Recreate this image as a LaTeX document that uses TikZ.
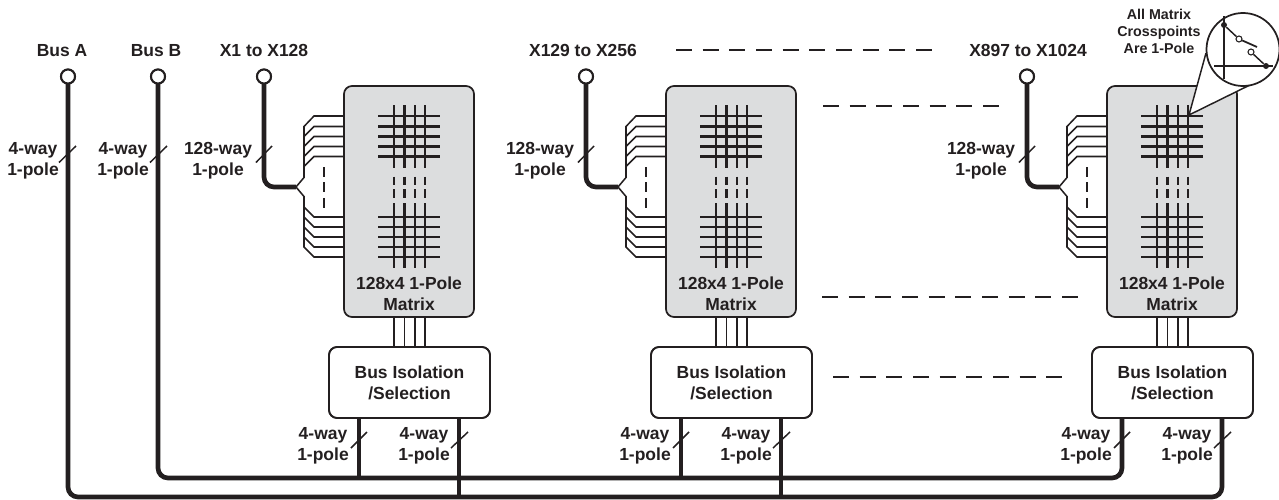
\documentclass[tikz,border=0pt]{standalone}
\usepackage{fontspec}
\setmainfont{Liberation Sans}[Ligatures=TeX]
\definecolor{ink}{HTML}{231F20}
\definecolor{panel}{HTML}{DCDDDE}
\tikzset{
  lbl/.style={font=\fontsize{13.1}{15.75}\selectfont\bfseries,text=ink,align=center,inner sep=0pt,outer sep=0pt},
  note/.style={font=\fontsize{10.7}{12.75}\selectfont\bfseries,text=ink,align=center,inner sep=0pt,outer sep=0pt},
  terminal/.style={circle,draw=ink,fill=white,line width=1.5pt,minimum size=10.5pt,inner sep=0pt,outer sep=0pt},
  matrixbox/.style={draw=ink,fill=panel,line width=1.3pt,rounded corners=6pt,minimum width=97.5pt,minimum height=173.25pt,inner sep=0pt,outer sep=0pt},
  isobox/.style={draw=ink,fill=white,line width=1.3pt,rounded corners=6pt,minimum width=120.75pt,minimum height=53.25pt,inner sep=0pt,outer sep=0pt},
  bus/.style={draw=ink,line width=3.5pt,rounded corners=7.5pt},
  fan/.style={draw=ink,line width=1.15pt},
  xbar/.style={draw=ink,line width=1.75pt},
  slashmark/.style={draw=ink,line width=1.1pt},
  gap/.style={draw=ink,line width=1.5pt,dash pattern=on 12pt off 8pt},
  thin/.style={draw=ink,line width=1.1pt}
}
\begin{document}
\begin{tikzpicture}[x=.75pt,y=-.75pt]
\useasboundingbox (0,0) rectangle (1279,500);
% top labels
\node[lbl] (lA) at (62,50.5) {Bus A};
\node[lbl] (lB) at (156,50.5) {Bus B};
\node[lbl] (lC) at (264,50.5) {X1 to X128};
\node[lbl] (lD) at (583,50.5) {X129 to X256};
\node[lbl] (lE) at (1028,50.5) {X897 to X1024};
% modules
\foreach \m/\o in {a/0,b/322,c/763}{
  \node[matrixbox] (mx\m) at ({409+\o},201.5) {};
  \node[isobox] (iso\m) at ({409.5+\o},382.5) {};
  \node[terminal] (in\m) at ({264+\o},76.5) {};
  \node[lbl] (mt\m) at ({409+\o},294) {128x4 1-Pole\\Matrix};
  \node[lbl] (it\m) at ({409.5+\o},382.5) {Bus Isolation\\/Selection};
  % crosspoints
  \foreach \y in {116,126.5,136.5,146.5,156.5,217,227,237,247,257}
    \draw[xbar] ({378+\o},\y) -- ({440+\o},\y);
  \foreach \x in {394,404.5,415,425}{
    \draw[xbar] ({\x+\o},105) -- ({\x+\o},168);
    \draw[xbar] ({\x+\o},203) -- ({\x+\o},268);
    \draw[xbar,dash pattern=on 6.2pt off 3.5pt] ({\x+\o},176.5) -- ({\x+\o},198);
    \draw[thin] ({\x+\o},317.5) -- ({\x+\o},347);
  }
  % fan-out
  \coordinate (fan\m) at ({296+\o},187);
  \coordinate (up\m) at ({304+\o},126.5);
  \coordinate (dn\m) at ({304+\o},247);
  \draw[fan] (fan\m) -- ++(8,-9.5) -- (up\m) -- ++(10,-10.5) -- ({344+\o},116);
  \draw[fan] (fan\m) -- ++(8,9.5) -- (dn\m) -- ++(10,10) -- ({344+\o},257);
  \foreach \y in {126.5,136.5,146.5,156.5}
    \draw[fan] ({304+\o},\y+10) -- ++(10,-10) -- ({344+\o},\y);
  \foreach \y in {217,227,237,247}
    \draw[fan] ({304+\o},\y-10) -- ++(10,10) -- ({344+\o},\y);
  \draw[xbar,line width=1.3pt,dash pattern=on 7.5pt off 4.1pt] ({324+\o},167) -- ({324+\o},208);
  % input trunk
  \draw[bus] (in\m.south) |- (fan\m);
  \node[terminal] at (in\m) {};
  \node[lbl] (wl\m) at ({218+\o},161) {128-way\\1-pole};
  \draw[slashmark] ({256+\o},162.5) -- ({272+\o},146);
  % outputs
  \node[lbl] (ol\m) at ({323+\o},446) {4-way\\1-pole};
  \node[lbl] (or\m) at ({424+\o},446) {4-way\\1-pole};
  \coordinate (d1\m) at ({359+\o},418);
  \coordinate (d2\m) at ({459+\o},418);
  \coordinate (b1\m) at ({359+\o},478);
  \coordinate (b2\m) at ({459+\o},497);
}
% buses
\node[terminal] (tA) at (68,76.5) {};
\node[terminal] (tB) at (158,76.5) {};
\draw[bus] (tA.south) |- (b2c) -- (d2c);
\draw[bus] (tB.south) |- (b1c) -- (d1c);
\foreach \m in {a,b}{
  \draw[bus,rounded corners=0pt] (d1\m) -- (b1\m);
  \draw[bus,rounded corners=0pt] (d2\m) -- (b2\m);
}
\foreach \m/\o in {a/0,b/322,c/763}{
  \draw[draw=ink,line width=1.3pt,rounded corners=6pt] (iso\m.south west) rectangle (iso\m.north east);
  \draw[slashmark] ({351+\o},448) -- ({367+\o},432);
  \draw[slashmark] ({451+\o},448) -- ({468+\o},432);
}
\node[terminal] at (tA) {};
\node[terminal] at (tB) {};
\node[lbl] (wA) at (33,161) {4-way\\1-pole};
\node[lbl] (wB) at (123,161) {4-way\\1-pole};
\draw[slashmark] (59,162.5) -- (76,146);
\draw[slashmark] (150,162.5) -- (167,146);
% continuation dashes
\coordinate (g1a) at (676,50); \coordinate (g1b) at (933,50);
\coordinate (g2a) at (823,106); \coordinate (g2b) at (999,106);
\coordinate (g3a) at (822,297); \coordinate (g3b) at (1079,297);
\coordinate (g4a) at (833,377); \coordinate (g4b) at (1063,377);
\draw[gap] (g1a) -- (g1b);
\draw[gap] (g2a) -- (g2b);
\draw[gap] (g3a) -- (g3b);
\draw[gap] (g4a) -- (g4b);
% callout
\node[note] (cn) at (1159,31) {All Matrix\\Crosspoints\\Are 1-Pole};
\coordinate (tip) at (1189,115);
\coordinate (wl) at (1206,53);
\coordinate (wr) at (1254,83);
\fill[white] (tip) -- (wl) -- (wr) -- cycle;
\draw[thin] (wl) -- (tip) -- (wr);
\node[circle,draw=ink,fill=white,line width=1.3pt,minimum size=54.75pt,inner sep=0pt,outer sep=0pt] (lens) at (1243,49.5) {};
\draw[xbar,line width=1.3pt] (1224,16) -- (1224,79);
\draw[xbar,line width=1.3pt] (1214,66) -- (1273,66);
\node[circle,fill=ink,minimum size=4.5pt,inner sep=0pt] (k1) at (1224,25) {};
\node[circle,fill=ink,minimum size=4.5pt,inner sep=0pt] (k2) at (1266,66) {};
\node[circle,draw=ink,fill=white,line width=.8pt,minimum size=4.5pt,inner sep=0pt] (o1) at (1239,39) {};
\node[circle,draw=ink,fill=white,line width=.8pt,minimum size=4.5pt,inner sep=0pt] (o2) at (1251,52) {};
\coordinate (sw) at (1257,47);
\draw[thin] (k1) -- (o1);
\draw[thin,line width=1.3pt] (o1) -- (sw);
\draw[thin] (o2) -- (k2);
\end{tikzpicture}
\end{document}
